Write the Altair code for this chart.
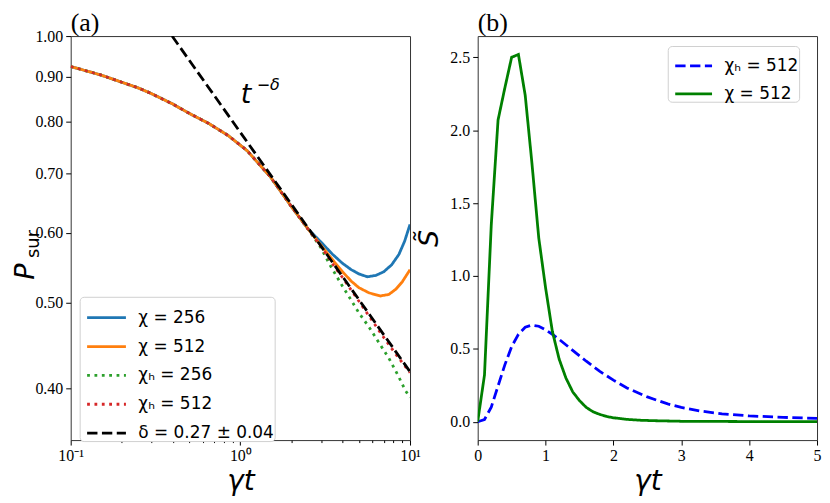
import altair as alt
import pandas as pd

# ---------------- panel (a) data ----------------
t_common = [0.1, 0.15, 0.2, 0.25, 0.3, 0.4, 0.5, 0.65, 0.85, 1.1, 1.5, 2.0, 2.5]
p_common = [0.924, 0.904, 0.887, 0.874, 0.861, 0.838, 0.818, 0.797, 0.772, 0.742, 0.694, 0.642, 0.606]

t_chi256 = [3.0, 3.5, 4.0, 4.5, 5.0, 5.6, 6.3, 7.0, 7.8, 8.6, 9.3, 10.0]
p_chi256 = [0.585, 0.567, 0.554, 0.545, 0.539, 0.535, 0.537, 0.542, 0.552, 0.567, 0.587, 0.613]

t_chi512 = [3.0, 3.5, 4.0, 4.5, 5.0, 5.75, 6.7, 7.5, 8.25, 9.0, 10.0]
p_chi512 = [0.580, 0.559, 0.542, 0.529, 0.520, 0.513, 0.509, 0.511, 0.518, 0.528, 0.545]

t_chiH256 = [3.0, 3.35, 4.0, 4.4, 5.0, 5.75, 6.5, 7.5, 8.5, 9.4, 10.0]
p_chiH256 = [0.576, 0.553, 0.522, 0.507, 0.487, 0.469, 0.452, 0.433, 0.414, 0.398, 0.391]

t_chiH512 = [3.0, 3.5, 4.0, 5.0, 6.0, 7.0, 8.0, 9.0, 10.0]
p_chiH512 = [0.578, 0.553, 0.534, 0.502, 0.477, 0.457, 0.441, 0.428, 0.417]

t_fit = [0.396, 10.0]
p_fit = [1.0, 0.418]

labels_a = ["χ = 256", "χ = 512", "χₕ = 256", "χₕ = 512", "δ = 0.27 ± 0.04"]
colors_a = ["#1f77b4", "#ff7f0e", "#2ca02c", "#d62728", "#000000"]
dashes_a = [[1, 0], [1, 0], [2.8, 4.6], [2.8, 4.6], [10.4, 4.5]]

x_ticks_a = [0.1, 0.2, 0.3, 0.4, 0.5, 0.6, 0.7, 0.8, 0.9, 1, 2, 3, 4, 5, 6, 7, 8, 9, 10]
y_ticks_a = [0.4, 0.5, 0.6, 0.7, 0.8, 0.9, 1.0]

# ---------------- panel (b) data ----------------
t_b_green = [0, 0.1, 0.2, 0.3, 0.4, 0.5, 0.6, 0.7, 0.8, 0.9, 1.0, 1.1, 1.2, 1.3, 1.4, 1.5,
             1.6, 1.7, 1.8, 1.9, 2.0, 2.2, 2.4, 2.6, 2.8, 3.0, 3.5, 4.0, 4.5, 5.0]
s_b_green = [0.0, 0.32, 1.35, 2.07, 2.29, 2.50, 2.52, 2.24, 1.77, 1.26, 0.92, 0.62, 0.43, 0.30,
             0.205, 0.145, 0.098, 0.068, 0.05, 0.036, 0.027, 0.016, 0.010, 0.007, 0.005, 0.003,
             0.002, 0.001, 0.001, 0.0005]

t_b_blue = [0, 0.1, 0.2, 0.3, 0.4, 0.5, 0.6, 0.7, 0.8, 0.9, 1.0, 1.1, 1.2, 1.4, 1.6, 1.8,
            2.0, 2.2, 2.5, 2.8, 3.0, 3.3, 3.6, 4.0, 4.5, 5.0]
s_b_blue = [0.0, 0.015, 0.10, 0.245, 0.39, 0.515, 0.60, 0.648, 0.663, 0.655, 0.63, 0.60,
            0.565, 0.49, 0.415, 0.345, 0.285, 0.232, 0.17, 0.122, 0.098, 0.072, 0.054,
            0.04, 0.03, 0.023]

labels_b = ["χₕ = 512", "χ = 512"]
colors_b = ["#0000ff", "#008000"]
dashes_b = [[10.4, 4.5], [1, 0]]

x_ticks_b = [0, 1, 2, 3, 4, 5]
y_ticks_b = [0.0, 0.5, 1.0, 1.5, 2.0, 2.5]

# ---------------- build tables ----------------
def rows(ts, vs, name, key):
    return [{"t": a, "v": b, key: name} for a, b in zip(ts, vs)]

series_a = [
    (labels_a[0], t_common + t_chi256, p_common + p_chi256),
    (labels_a[1], t_common + t_chi512, p_common + p_chi512),
    (labels_a[2], t_common + t_chiH256, p_common + p_chiH256),
    (labels_a[3], t_common + t_chiH512, p_common + p_chiH512),
    (labels_a[4], t_fit, p_fit),
]
df_a = pd.DataFrame(sum([rows(t, v, n, "sa") for n, t, v in series_a], []))

series_b = [
    (labels_b[0], t_b_blue, s_b_blue),
    (labels_b[1], t_b_green, s_b_green),
]
df_b = pd.DataFrame(sum([rows(t, v, n, "sb") for n, t, v in series_b], []))

SERIF = "Liberation Serif"
SANS = "DejaVu Sans"
LW = 2.8

major_test = "datum.value == 0.1 || datum.value == 1 || datum.value == 10"

legend_common = dict(
    title=None, orient="none",
    symbolType="stroke", symbolStrokeWidth=LW, symbolOffset=6,
    labelFont=SANS, labelFontSize=17, labelLimit=300, labelOffset=11,
    fillColor="white", strokeColor="#d0d0d0", cornerRadius=4,
    padding=0, rowPadding=-5,
)

x_a = alt.X(
    "t:Q",
    scale=alt.Scale(type="log", domain=[0.1, 10], nice=False),
    axis=alt.Axis(
        values=x_ticks_a,
        labelExpr="datum.value == 0.1 ? '10⁻¹' : datum.value == 1 ? '10⁰' : datum.value == 10 ? '10¹' : ''",
        tickSize={"condition": {"test": major_test, "value": 5}, "value": 2.5},
        labelFlush=False,
        title="γt",
    ),
)
y_a = alt.Y(
    "v:Q",
    scale=alt.Scale(type="log", domain=[0.35, 1.0], nice=False),
    axis=alt.Axis(values=y_ticks_a, format=".2f", title=None, tickSize=5),
)
color_a = alt.Color(
    "sa:N",
    scale=alt.Scale(domain=labels_a, range=colors_a),
    legend=alt.Legend(legendX=9, legendY=262, symbolSize=1521, **legend_common),
)
dash_a = alt.StrokeDash("sa:N", scale=alt.Scale(domain=labels_a, range=dashes_a), legend=None)

layers_a = []
for name in labels_a:
    layers_a.append(
        alt.Chart(df_a)
        .transform_filter(alt.datum.sa == name)
        .mark_line(strokeWidth=LW, clip=True, strokeCap="butt")
        .encode(x=x_a, y=y_a, color=color_a, strokeDash=dash_a, order="t:Q")
    )

one = alt.Data(values=[{}])
ann_t = alt.Chart(one).mark_text(
    text="t", font=SANS, fontSize=27, fontStyle="italic", align="left", baseline="alphabetic", color="black"
).encode(x=alt.value(171), y=alt.value(67))
ann_d = alt.Chart(one).mark_text(
    text="−δ", font=SANS, fontSize=16, fontStyle="italic", align="left", baseline="alphabetic", color="black"
).encode(x=alt.value(187), y=alt.value(54))
ylab_P = alt.Chart(one).mark_text(
    text="P", font=SANS, fontSize=27, fontStyle="italic", angle=270, align="left", baseline="alphabetic", color="black"
).encode(x=alt.value(-37), y=alt.value(245))
ylab_sub = alt.Chart(one).mark_text(
    text="sur", font=SANS, fontSize=18, angle=270, align="left", baseline="alphabetic", color="black"
).encode(x=alt.value(-32), y=alt.value(223))

left = alt.layer(*layers_a, ann_t, ann_d, ylab_P, ylab_sub).properties(
    width=341, height=406,
    title=alt.TitleParams("(a)", anchor="start", frame="group", font=SERIF, fontSize=26,
                          fontWeight="normal", color="black", offset=-8),
)

x_b = alt.X(
    "t:Q",
    scale=alt.Scale(domain=[0, 5], nice=False),
    axis=alt.Axis(values=x_ticks_b, format="d", title="γt", tickSize=5, labelFlush=False),
)
y_b = alt.Y(
    "v:Q",
    scale=alt.Scale(domain=[-0.126, 2.646], nice=False, zero=False),
    axis=alt.Axis(values=y_ticks_b, format=".1f", title="S̃", tickSize=5,
                  titleFont=SANS, titleFontSize=27, titleFontStyle="italic", titlePadding=6),
)
color_b = alt.Color(
    "sb:N",
    scale=alt.Scale(domain=labels_b, range=colors_b),
    legend=alt.Legend(legendX=191, legendY=10, symbolSize=1369, **legend_common),
)
dash_b = alt.StrokeDash("sb:N", scale=alt.Scale(domain=labels_b, range=dashes_b), legend=None)

layers_b = []
for name in labels_b:
    layers_b.append(
        alt.Chart(df_b)
        .transform_filter(alt.datum.sb == name)
        .mark_line(strokeWidth=LW, clip=True, strokeCap="butt")
        .encode(x=x_b, y=y_b, color=color_b, strokeDash=dash_b, order="t:Q")
    )

right = alt.layer(*layers_b).properties(
    width=341, height=406,
    title=alt.TitleParams("(b)", anchor="start", frame="group", font=SERIF, fontSize=26,
                          fontWeight="normal", color="black", offset=0),
)

chart = (
    alt.hconcat(left, right, spacing=68, bounds="flush")
    .resolve_scale(color="independent", strokeDash="independent", x="independent", y="independent")
    .properties(padding={"top": 0, "left": 3, "right": 0, "bottom": 0})
    .configure_view(stroke="#333333", strokeWidth=1)
    .configure_axis(
        grid=False, domain=False,
        labelFont=SERIF, labelFontSize=16, labelColor="black", labelPadding=3,
        tickColor="black", tickWidth=1,
        titleFont=SANS, titleFontSize=28, titleFontStyle="italic", titleFontWeight="normal",
        titleColor="black", titlePadding=4,
    )
    .configure_legend(labelColor="black")
)

chart.save("out.html", embed_options={"renderer": "svg", "actions": False})
